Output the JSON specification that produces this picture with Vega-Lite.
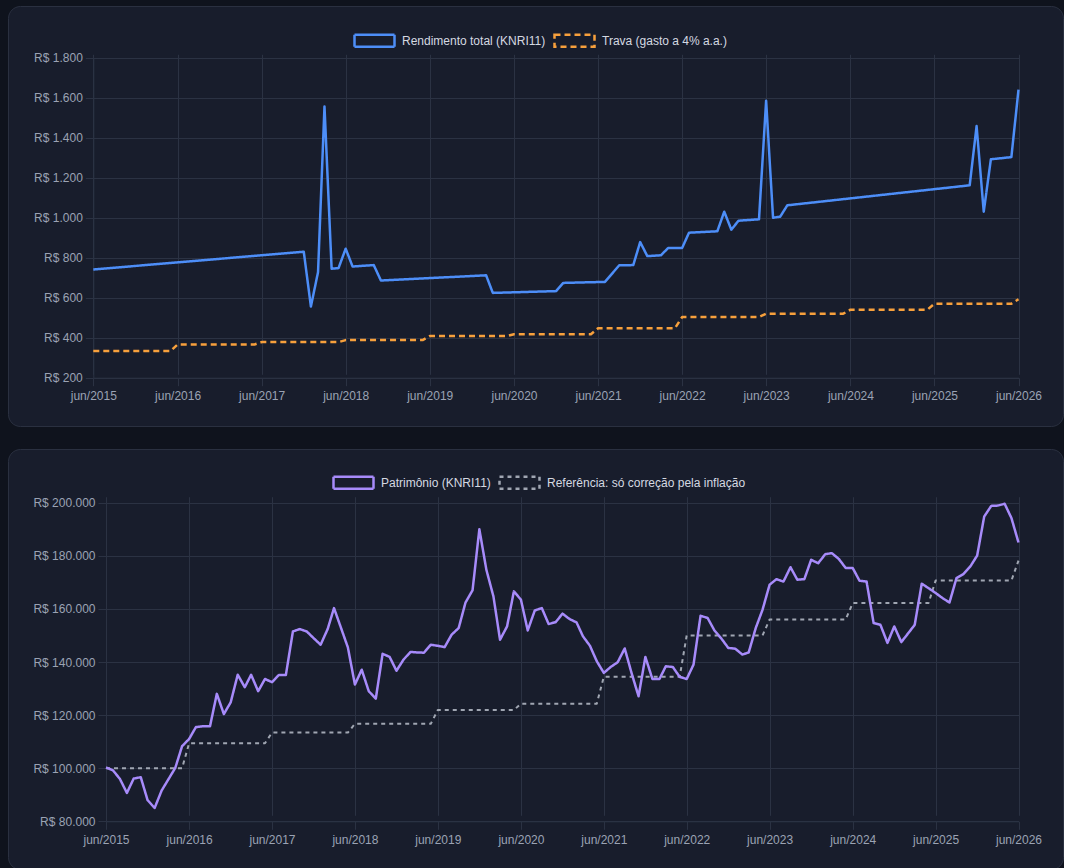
{
  "$schema": "https://vega.github.io/schema/vega-lite/v6.json",
  "background": "#0f131d",
  "padding": {"left": 7, "top": 5, "right": 0, "bottom": 0},
  "spacing": 21,
  "config": {
    "font": "Liberation Sans",
    "view": {"fill": "#181d2c", "stroke": "#2a3040", "strokeWidth": 1, "cornerRadius": 12},
    "axis": {
      "title": null,
      "grid": true,
      "gridColor": "#2b3243",
      "gridWidth": 1,
      "domainColor": "#2b3243",
      "tickColor": "#2b3243",
      "tickSize": 8,
      "labelColor": "#9ba3b4",
      "labelFont": "Liberation Sans",
      "labelFontSize": 12,
      "labelFlush": false,
      "labelOverlap": false
    },
    "legend": {
      "labelColor": "#d5d9e1",
      "labelFont": "Liberation Sans",
      "labelFontSize": 12,
      "labelOffset": 6,
      "labelLimit": 400,
      "columnPadding": 3,
      "symbolType": "M-1,-0.3H1V0.3H-1Z",
      "symbolSize": 1600,
      "symbolStrokeWidth": 2.5
    }
  },
  "datasets": {
    "rendimento": [
      {"mes": "2015-06-01", "valor": 741},
      {"mes": "2017-12-01", "valor": 830},
      {"mes": "2018-01-01", "valor": 556},
      {"mes": "2018-02-01", "valor": 728},
      {"mes": "2018-03-01", "valor": 1556},
      {"mes": "2018-04-01", "valor": 745},
      {"mes": "2018-05-01", "valor": 748},
      {"mes": "2018-06-01", "valor": 845},
      {"mes": "2018-07-01", "valor": 756},
      {"mes": "2018-10-01", "valor": 763},
      {"mes": "2018-11-01", "valor": 686},
      {"mes": "2020-02-01", "valor": 712},
      {"mes": "2020-03-01", "valor": 624},
      {"mes": "2020-12-01", "valor": 633},
      {"mes": "2021-01-01", "valor": 674},
      {"mes": "2021-07-01", "valor": 679},
      {"mes": "2021-09-01", "valor": 762},
      {"mes": "2021-11-01", "valor": 763},
      {"mes": "2021-12-01", "valor": 878},
      {"mes": "2022-01-01", "valor": 808},
      {"mes": "2022-03-01", "valor": 812},
      {"mes": "2022-04-01", "valor": 848},
      {"mes": "2022-06-01", "valor": 848},
      {"mes": "2022-07-01", "valor": 925},
      {"mes": "2022-11-01", "valor": 932},
      {"mes": "2022-12-01", "valor": 1030},
      {"mes": "2023-01-01", "valor": 940},
      {"mes": "2023-02-01", "valor": 985},
      {"mes": "2023-05-01", "valor": 992},
      {"mes": "2023-06-01", "valor": 1585},
      {"mes": "2023-07-01", "valor": 1000},
      {"mes": "2023-08-01", "valor": 1005},
      {"mes": "2023-09-01", "valor": 1062},
      {"mes": "2025-11-01", "valor": 1162},
      {"mes": "2025-12-01", "valor": 1458},
      {"mes": "2026-01-01", "valor": 1030},
      {"mes": "2026-02-01", "valor": 1292},
      {"mes": "2026-05-01", "valor": 1303},
      {"mes": "2026-06-01", "valor": 1640}
    ],
    "trava": [
      {"mes": "2015-06-01", "valor": 333},
      {"mes": "2016-05-01", "valor": 333},
      {"mes": "2016-06-01", "valor": 366},
      {"mes": "2017-05-01", "valor": 366},
      {"mes": "2017-06-01", "valor": 378},
      {"mes": "2018-05-01", "valor": 378},
      {"mes": "2018-06-01", "valor": 388},
      {"mes": "2019-05-01", "valor": 388},
      {"mes": "2019-06-01", "valor": 408},
      {"mes": "2020-05-01", "valor": 408},
      {"mes": "2020-06-01", "valor": 417},
      {"mes": "2021-05-01", "valor": 417},
      {"mes": "2021-06-01", "valor": 447},
      {"mes": "2022-05-01", "valor": 447},
      {"mes": "2022-06-01", "valor": 503},
      {"mes": "2023-05-01", "valor": 503},
      {"mes": "2023-06-01", "valor": 520},
      {"mes": "2024-05-01", "valor": 520},
      {"mes": "2024-06-01", "valor": 540},
      {"mes": "2025-05-01", "valor": 540},
      {"mes": "2025-06-01", "valor": 570},
      {"mes": "2026-05-01", "valor": 570},
      {"mes": "2026-06-01", "valor": 592}
    ],
    "patrimonio": [
      {"mes": "2015-06-01", "valor": 100250},
      {"mes": "2015-07-01", "valor": 99250},
      {"mes": "2015-08-01", "valor": 96000},
      {"mes": "2015-09-01", "valor": 90700},
      {"mes": "2015-10-01", "valor": 96100},
      {"mes": "2015-11-01", "valor": 96600},
      {"mes": "2015-12-01", "valor": 88000},
      {"mes": "2016-01-01", "valor": 85000},
      {"mes": "2016-02-01", "valor": 91600},
      {"mes": "2016-03-01", "valor": 95700},
      {"mes": "2016-04-01", "valor": 100100},
      {"mes": "2016-05-01", "valor": 108300},
      {"mes": "2016-06-01", "valor": 111000},
      {"mes": "2016-07-01", "valor": 115500},
      {"mes": "2016-08-01", "valor": 115800},
      {"mes": "2016-09-01", "valor": 115800},
      {"mes": "2016-10-01", "valor": 128000},
      {"mes": "2016-11-01", "valor": 120400},
      {"mes": "2016-12-01", "valor": 124800},
      {"mes": "2017-01-01", "valor": 135200},
      {"mes": "2017-02-01", "valor": 130500},
      {"mes": "2017-03-01", "valor": 135200},
      {"mes": "2017-04-01", "valor": 129000},
      {"mes": "2017-05-01", "valor": 133600},
      {"mes": "2017-06-01", "valor": 132400},
      {"mes": "2017-07-01", "valor": 135100},
      {"mes": "2017-08-01", "valor": 135100},
      {"mes": "2017-09-01", "valor": 151500},
      {"mes": "2017-10-01", "valor": 152400},
      {"mes": "2017-11-01", "valor": 151500},
      {"mes": "2017-12-01", "valor": 149000},
      {"mes": "2018-01-01", "valor": 146500},
      {"mes": "2018-02-01", "valor": 152400},
      {"mes": "2018-03-01", "valor": 160300},
      {"mes": "2018-04-01", "valor": 152800},
      {"mes": "2018-05-01", "valor": 145500},
      {"mes": "2018-06-01", "valor": 131500},
      {"mes": "2018-07-01", "valor": 137100},
      {"mes": "2018-08-01", "valor": 129000},
      {"mes": "2018-09-01", "valor": 126200},
      {"mes": "2018-10-01", "valor": 143100},
      {"mes": "2018-11-01", "valor": 141900},
      {"mes": "2018-12-01", "valor": 136700},
      {"mes": "2019-01-01", "valor": 140900},
      {"mes": "2019-02-01", "valor": 143800},
      {"mes": "2019-03-01", "valor": 143600},
      {"mes": "2019-04-01", "valor": 143500},
      {"mes": "2019-05-01", "valor": 146500},
      {"mes": "2019-06-01", "valor": 146100},
      {"mes": "2019-07-01", "valor": 145600},
      {"mes": "2019-08-01", "valor": 150300},
      {"mes": "2019-09-01", "valor": 152800},
      {"mes": "2019-10-01", "valor": 162400},
      {"mes": "2019-11-01", "valor": 167000},
      {"mes": "2019-12-01", "valor": 190000},
      {"mes": "2020-01-01", "valor": 174700},
      {"mes": "2020-02-01", "valor": 164700},
      {"mes": "2020-03-01", "valor": 148400},
      {"mes": "2020-04-01", "valor": 153400},
      {"mes": "2020-05-01", "valor": 166600},
      {"mes": "2020-06-01", "valor": 163500},
      {"mes": "2020-07-01", "valor": 151900},
      {"mes": "2020-08-01", "valor": 159400},
      {"mes": "2020-09-01", "valor": 160300},
      {"mes": "2020-10-01", "valor": 154300},
      {"mes": "2020-11-01", "valor": 155000},
      {"mes": "2020-12-01", "valor": 158200},
      {"mes": "2021-01-01", "valor": 156200},
      {"mes": "2021-02-01", "valor": 154900},
      {"mes": "2021-03-01", "valor": 149700},
      {"mes": "2021-04-01", "valor": 146100},
      {"mes": "2021-05-01", "valor": 140300},
      {"mes": "2021-06-01", "valor": 135900},
      {"mes": "2021-07-01", "valor": 138100},
      {"mes": "2021-08-01", "valor": 139900},
      {"mes": "2021-09-01", "valor": 145100},
      {"mes": "2021-10-01", "valor": 135900},
      {"mes": "2021-11-01", "valor": 127100},
      {"mes": "2021-12-01", "valor": 141900},
      {"mes": "2022-01-01", "valor": 133600},
      {"mes": "2022-02-01", "valor": 133600},
      {"mes": "2022-03-01", "valor": 138400},
      {"mes": "2022-04-01", "valor": 138100},
      {"mes": "2022-05-01", "valor": 134400},
      {"mes": "2022-06-01", "valor": 133600},
      {"mes": "2022-07-01", "valor": 139000},
      {"mes": "2022-08-01", "valor": 157400},
      {"mes": "2022-09-01", "valor": 156600},
      {"mes": "2022-10-01", "valor": 151900},
      {"mes": "2022-11-01", "valor": 148800},
      {"mes": "2022-12-01", "valor": 145300},
      {"mes": "2023-01-01", "valor": 145000},
      {"mes": "2023-02-01", "valor": 142800},
      {"mes": "2023-03-01", "valor": 143600},
      {"mes": "2023-04-01", "valor": 152800},
      {"mes": "2023-05-01", "valor": 159700},
      {"mes": "2023-06-01", "valor": 169100},
      {"mes": "2023-07-01", "valor": 171200},
      {"mes": "2023-08-01", "valor": 170300},
      {"mes": "2023-09-01", "valor": 175700},
      {"mes": "2023-10-01", "valor": 171000},
      {"mes": "2023-11-01", "valor": 171200},
      {"mes": "2023-12-01", "valor": 178500},
      {"mes": "2024-01-01", "valor": 177200},
      {"mes": "2024-02-01", "valor": 180600},
      {"mes": "2024-03-01", "valor": 181000},
      {"mes": "2024-04-01", "valor": 178800},
      {"mes": "2024-05-01", "valor": 175400},
      {"mes": "2024-06-01", "valor": 175400},
      {"mes": "2024-07-01", "valor": 170600},
      {"mes": "2024-08-01", "valor": 170300},
      {"mes": "2024-09-01", "valor": 154700},
      {"mes": "2024-10-01", "valor": 154000},
      {"mes": "2024-11-01", "valor": 147200},
      {"mes": "2024-12-01", "valor": 153400},
      {"mes": "2025-01-01", "valor": 147500},
      {"mes": "2025-02-01", "valor": 150900},
      {"mes": "2025-03-01", "valor": 154000},
      {"mes": "2025-04-01", "valor": 169500},
      {"mes": "2025-05-01", "valor": 167800},
      {"mes": "2025-06-01", "valor": 166000},
      {"mes": "2025-07-01", "valor": 164100},
      {"mes": "2025-08-01", "valor": 162400},
      {"mes": "2025-09-01", "valor": 171600},
      {"mes": "2025-10-01", "valor": 173100},
      {"mes": "2025-11-01", "valor": 176000},
      {"mes": "2025-12-01", "valor": 180100},
      {"mes": "2026-01-01", "valor": 194800},
      {"mes": "2026-02-01", "valor": 198800},
      {"mes": "2026-03-01", "valor": 198900},
      {"mes": "2026-04-01", "valor": 199600},
      {"mes": "2026-05-01", "valor": 194200},
      {"mes": "2026-06-01", "valor": 185000}
    ],
    "referencia": [
      {"mes": "2015-06-01", "valor": 100000},
      {"mes": "2016-05-01", "valor": 100000},
      {"mes": "2016-06-01", "valor": 109400},
      {"mes": "2017-05-01", "valor": 109400},
      {"mes": "2017-06-01", "valor": 113400},
      {"mes": "2018-05-01", "valor": 113400},
      {"mes": "2018-06-01", "valor": 116700},
      {"mes": "2019-05-01", "valor": 116700},
      {"mes": "2019-06-01", "valor": 121900},
      {"mes": "2020-05-01", "valor": 121900},
      {"mes": "2020-06-01", "valor": 124300},
      {"mes": "2021-05-01", "valor": 124300},
      {"mes": "2021-06-01", "valor": 134400},
      {"mes": "2022-05-01", "valor": 134400},
      {"mes": "2022-06-01", "valor": 150000},
      {"mes": "2023-05-01", "valor": 150000},
      {"mes": "2023-06-01", "valor": 156000},
      {"mes": "2024-05-01", "valor": 156000},
      {"mes": "2024-06-01", "valor": 162200},
      {"mes": "2025-05-01", "valor": 162200},
      {"mes": "2025-06-01", "valor": 170700},
      {"mes": "2026-05-01", "valor": 170700},
      {"mes": "2026-06-01", "valor": 178200}
    ]
  },
  "vconcat": [
    {
      "width": 1055,
      "height": 420,
      "encoding": {
        "x": {
          "field": "mes",
          "type": "temporal",
          "scale": {
            "type": "utc",
            "nice": false,
            "domain": [{"year": 2015, "month": 6, "date": 1, "utc": true}, {"year": 2026, "month": 6, "date": 1, "utc": true}],
            "range": [85.3, 1010.5]
          },
          "axis": {
            "offset": -48.3,
            "labelPadding": 5,
            "values": [
              {"year": 2015, "month": 6, "date": 1, "utc": true},
              {"year": 2016, "month": 6, "date": 1, "utc": true},
              {"year": 2017, "month": 6, "date": 1, "utc": true},
              {"year": 2018, "month": 6, "date": 1, "utc": true},
              {"year": 2019, "month": 6, "date": 1, "utc": true},
              {"year": 2020, "month": 6, "date": 1, "utc": true},
              {"year": 2021, "month": 6, "date": 1, "utc": true},
              {"year": 2022, "month": 6, "date": 1, "utc": true},
              {"year": 2023, "month": 6, "date": 1, "utc": true},
              {"year": 2024, "month": 6, "date": 1, "utc": true},
              {"year": 2025, "month": 6, "date": 1, "utc": true},
              {"year": 2026, "month": 6, "date": 1, "utc": true}
            ],
            "labelExpr": "lower(utcFormat(datum.value, '%b')) + '/' + utcFormat(datum.value, '%Y')"
          }
        },
        "y": {
          "field": "valor",
          "type": "quantitative",
          "scale": {"domain": [200, 1800], "range": [371.7, 51.7], "nice": false, "zero": false},
          "axis": {
            "offset": -85.3,
            "labelPadding": 3,
            "values": [200, 400, 600, 800, 1000, 1200, 1400, 1600, 1800],
            "labelExpr": "'R$ ' + replace(format(datum.value, ',.0f'), ',', '.')"
          }
        }
      },
      "layer": [
        {
          "data": {"name": "trava"},
          "mark": {"type": "line", "strokeWidth": 2.5, "strokeJoin": "round"},
          "encoding": {
            "color": {
              "datum": "Trava (gasto a 4% a.a.)",
              "scale": {"domain": ["Rendimento total (KNRI11)", "Trava (gasto a 4% a.a.)"], "range": ["#4d8ef8", "#f7a03c"]},
              "legend": {"orient": "none", "legendX": 345, "legendY": 13, "direction": "horizontal", "title": null,
                "encode": {"symbols": {"update": {"fill": {"value": "transparent"}}}}}
            },
            "strokeDash": {
              "datum": "Trava (gasto a 4% a.a.)",
              "scale": {"domain": ["Rendimento total (KNRI11)", "Trava (gasto a 4% a.a.)"], "range": [[1, 0], [6, 4]]},
              "legend": {"orient": "none", "legendX": 345, "legendY": 13, "direction": "horizontal", "title": null,
                "encode": {"symbols": {"update": {"fill": {"value": "transparent"}}}}}
            }
          }
        },
        {
          "data": {"name": "rendimento"},
          "mark": {"type": "line", "strokeWidth": 2.5, "strokeJoin": "round"},
          "encoding": {
            "color": {"datum": "Rendimento total (KNRI11)"},
            "strokeDash": {"datum": "Rendimento total (KNRI11)"}
          }
        }
      ]
    },
    {
      "width": 1055,
      "height": 420,
      "encoding": {
        "x": {
          "field": "mes",
          "type": "temporal",
          "scale": {
            "type": "utc",
            "nice": false,
            "domain": [{"year": 2015, "month": 6, "date": 1, "utc": true}, {"year": 2026, "month": 6, "date": 1, "utc": true}],
            "range": [98, 1010.5]
          },
          "axis": {
            "offset": -47.7,
            "labelPadding": 5,
            "values": [
              {"year": 2015, "month": 6, "date": 1, "utc": true},
              {"year": 2016, "month": 6, "date": 1, "utc": true},
              {"year": 2017, "month": 6, "date": 1, "utc": true},
              {"year": 2018, "month": 6, "date": 1, "utc": true},
              {"year": 2019, "month": 6, "date": 1, "utc": true},
              {"year": 2020, "month": 6, "date": 1, "utc": true},
              {"year": 2021, "month": 6, "date": 1, "utc": true},
              {"year": 2022, "month": 6, "date": 1, "utc": true},
              {"year": 2023, "month": 6, "date": 1, "utc": true},
              {"year": 2024, "month": 6, "date": 1, "utc": true},
              {"year": 2025, "month": 6, "date": 1, "utc": true},
              {"year": 2026, "month": 6, "date": 1, "utc": true}
            ],
            "labelExpr": "lower(utcFormat(datum.value, '%b')) + '/' + utcFormat(datum.value, '%Y')"
          }
        },
        "y": {
          "field": "valor",
          "type": "quantitative",
          "scale": {"domain": [80000, 200000], "range": [372.3, 53.7], "nice": false, "zero": false},
          "axis": {
            "offset": -98,
            "labelPadding": 3,
            "values": [80000, 100000, 120000, 140000, 160000, 180000, 200000],
            "labelExpr": "'R$ ' + replace(format(datum.value, ',.0f'), ',', '.')"
          }
        }
      },
      "layer": [
        {
          "data": {"name": "referencia"},
          "mark": {"type": "line", "strokeWidth": 2, "strokeJoin": "round"},
          "encoding": {
            "color": {
              "datum": "Referência: só correção pela inflação",
              "scale": {"domain": ["Patrimônio (KNRI11)", "Referência: só correção pela inflação"], "range": ["#a78bfa", "#a0a6b2"]},
              "legend": {"orient": "none", "legendX": 324, "legendY": 12, "direction": "horizontal", "title": null,
                "encode": {"symbols": {"update": {"fill": {"value": "transparent"}}}}}
            },
            "strokeDash": {
              "datum": "Referência: só correção pela inflação",
              "scale": {"domain": ["Patrimônio (KNRI11)", "Referência: só correção pela inflação"], "range": [[1, 0], [4, 4]]},
              "legend": {"orient": "none", "legendX": 324, "legendY": 12, "direction": "horizontal", "title": null,
                "encode": {"symbols": {"update": {"fill": {"value": "transparent"}}}}}
            }
          }
        },
        {
          "data": {"name": "patrimonio"},
          "mark": {"type": "line", "strokeWidth": 2.5, "strokeJoin": "round"},
          "encoding": {
            "color": {"datum": "Patrimônio (KNRI11)"},
            "strokeDash": {"datum": "Patrimônio (KNRI11)"}
          }
        }
      ]
    }
  ],
  "resolve": {"scale": {"color": "independent", "strokeDash": "independent", "x": "independent", "y": "independent"}}
}
